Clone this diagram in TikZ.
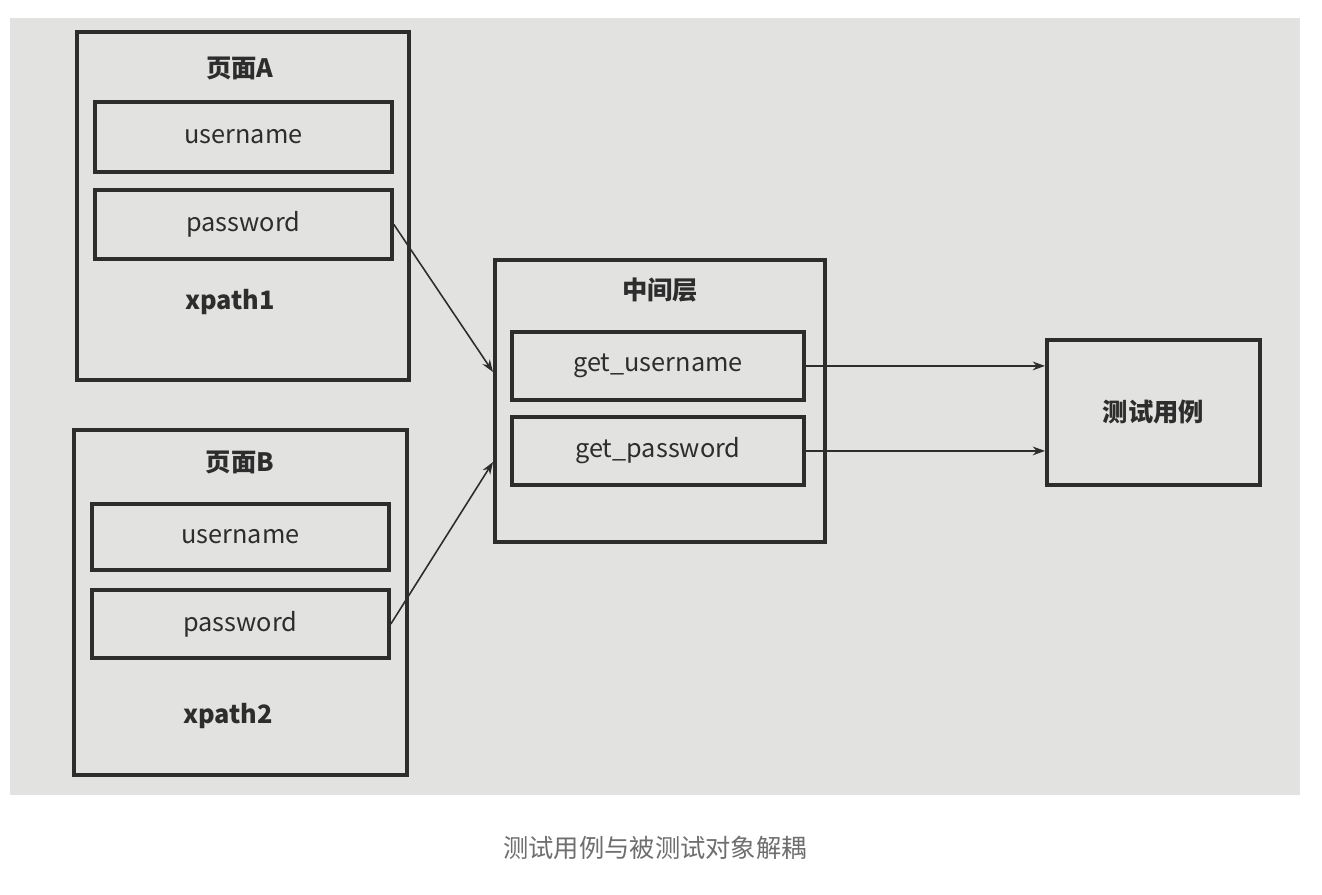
\documentclass[tikz,border=0pt]{standalone}
\usepackage{fontspec}
\setmainfont{Noto Sans CJK SC}
\usetikzlibrary{arrows.meta,positioning}
\definecolor{photo}{RGB}{226,226,224}
\definecolor{ink}{RGB}{45,45,45}
\definecolor{captiongray}{RGB}{110,110,110}
\tikzset{
  outerbox/.style={draw=ink, line width=2.2pt, anchor=north west, inner sep=0pt},
  fieldbox/.style={draw=ink, line width=2.2pt, anchor=north west, inner sep=0pt, font=\Large, text=ink},
  label/.style={font=\Large\bfseries, text=ink},
  link/.style={ink, line width=0.9pt, -{Stealth[length=7pt,width=5pt]}}
}
\begin{document}
\begin{tikzpicture}[x=0.02cm,y=-0.02cm]
\useasboundingbox (0,0) rectangle (1322,895);
\fill[photo] (10,18) rectangle (1300,795);

% page A
\node[outerbox, minimum width=332*0.02cm, minimum height=348*0.02cm] (pageA) at (75,30) {};
\node[label] (titleA) at (240,68) {页面A};
\node[fieldbox, minimum width=297*0.02cm, minimum height=70*0.02cm] (userA) at (93,100) {username};
\node[fieldbox, minimum width=297*0.02cm, minimum height=69*0.02cm] (passA) at (93,188) {password};
\node[label] (xpathA) at (230,302) {xpath1};

% page B
\node[outerbox, minimum width=333*0.02cm, minimum height=345*0.02cm] (pageB) at (72,428) {};
\node[label] (titleB) at (240,462) {页面B};
\node[fieldbox, minimum width=297*0.02cm, minimum height=66*0.02cm] (userB) at (90,502) {username};
\node[fieldbox, minimum width=297*0.02cm, minimum height=68*0.02cm] (passB) at (90,588) {password};
\node[label] (xpathB) at (228,716) {xpath2};

% middle layer
\node[outerbox, minimum width=330*0.02cm, minimum height=282*0.02cm] (middle) at (493,258) {};
\node[label] (titleM) at (660,290) {中间层};
\node[fieldbox, minimum width=292*0.02cm, minimum height=68*0.02cm] (getUser) at (510,330) {get\_username};
\node[fieldbox, minimum width=292*0.02cm, minimum height=68*0.02cm] (getPass) at (510,415) {get\_password};

% test case
\node[outerbox, minimum width=213*0.02cm, minimum height=145*0.02cm, font=\Large\bfseries, text=ink] (testcase) at (1045,338) {测试用例};

% connectors
\draw[link] (passA.east) -- (middle.west |- 0,372);
\draw[link] (passB.east) -- (middle.west |- 0,462);
\draw[link] (getUser.east) -- (testcase.west |- getUser.east);
\draw[link] (getPass.east) -- (testcase.west |- getPass.east);

\node[font=\Large, text=captiongray] (caption) at (655,848) {测试用例与被测试对象解耦};
\end{tikzpicture}
\end{document}
